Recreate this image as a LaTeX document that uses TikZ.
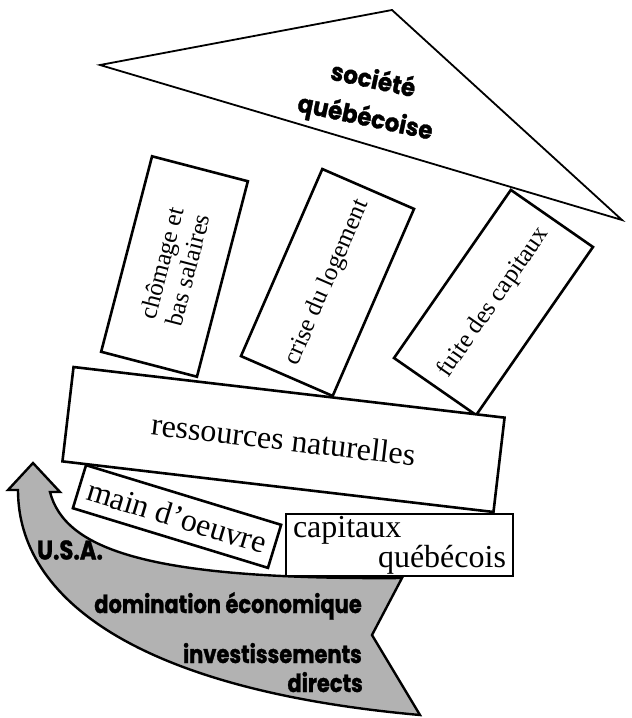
\documentclass[tikz,border=0pt]{standalone}
\usepackage{fontspec}
\setmainfont{Liberation Serif}
% heavy condensed sans for the roof and the arrow captions
\newfontfamily\heavysans{Poppins}[FakeStretch=0.84, FakeBold=1.2]
\newfontfamily\roofsans{Poppins}[FakeStretch=0.92, FakeBold=1.2]
\begin{document}
\begin{tikzpicture}[x=1pt,y=-1pt,
  panel/.style={draw, line width=2.6pt, fill=white, inner sep=0pt, align=center},
  pillartext/.style={font=\fontsize{25}{27}\selectfont},
  slabtext/.style={font=\fontsize{32}{24}\selectfont},
  banner/.style={font=\heavysans\bfseries\fontsize{25}{27}\selectfont, inner sep=0pt},
  roofline/.style={line width=1.8pt, line join=miter},
  flow/.style={draw, line width=2.4pt, fill=black!30, line join=miter}]
\useasboundingbox (0,0) rectangle (632,718);

% --- the curved U.S.A. arrow (drawn first, the slabs sit over it) ---
\coordinate (tip) at (33,463);
\coordinate (lbarb) at (8,490);
\coordinate (ljoin) at (18,490);
\coordinate (rbarb) at (60,492);
\coordinate (rjoin) at (50,492);
\coordinate (tailtop) at (402,578);
\coordinate (notch) at (372,635);
\coordinate (tailbot) at (420,715);
\path[flow] (ljoin) .. controls (18,600) and (140,690) .. (tailbot)
  -- (notch) -- (tailtop)
  .. controls (150,580) and (65,550) .. (rjoin)
  -- (rbarb) -- (tip) -- (lbarb) -- cycle;

\node[banner, font=\heavysans\bfseries\fontsize{27}{29}\selectfont] (usa) at (70,550) {U.S.A.};
\node[banner, anchor=base east] (dom) at (362,613) {domination économique};
\node[banner, anchor=base east] (inv) at (362,663) {investissements};
\node[banner, anchor=base east] (dir) at (363,692) {directs};

% --- roof ---
\coordinate (roofL) at (100,65);
\coordinate (roofT) at (392,10);
\coordinate (roofR) at (622,220);
\draw[roofline, fill=white] (roofL) -- (roofT) -- (roofR) -- cycle;
\node[inner sep=0pt, align=center, rotate=-12, font=\roofsans\bfseries\fontsize{25}{38}\selectfont]
  (society) at (369,100) {société\\québécoise};

% --- pillars ---
\node[panel, pillartext, minimum width=202, minimum height=99, rotate=75.4]
  (chomage) at (174.5,266.5) {chômage et\\bas salaires};
\node[panel, pillartext, minimum width=204, minimum height=100, rotate=66.5]
  (logement) at (327.5,282.5) {crise du logement};
\node[panel, pillartext, minimum width=204.7, minimum height=100, rotate=55.2]
  (fuite) at (493.5,302.5) {fuite des capitaux};

% --- base slabs ---
\node[panel, slabtext, minimum width=434, minimum height=95, rotate=-6.7]
  (ressources) at (283.5,439.5) {ressources naturelles};
\node[panel, slabtext, minimum width=204, minimum height=45, rotate=-17]
  (main) at (177,516.5) {main d’oeuvre};
\node[panel, slabtext, minimum width=227, minimum height=62, align=left]
  (capitaux) at (399.5,545) {capitaux\\\hspace*{85pt}québécois};
\end{tikzpicture}
\end{document}
